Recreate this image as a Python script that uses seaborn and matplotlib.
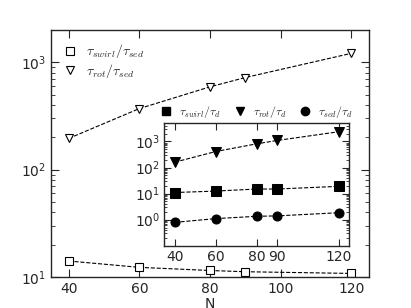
import numpy as np
import pandas as pd
import seaborn as sns
import matplotlib
matplotlib.use("Agg")
import matplotlib.pyplot as plt
from matplotlib.lines import Line2D
from matplotlib.ticker import LogLocator, NullFormatter

# data
N = [40, 60, 80, 90, 120]
swirl_sed = [14.1, 12.3, 11.5, 11.2, 10.8]
rot_sed = [195, 370, 590, 720, 1210]
swirl_d = [11.0, 12.5, 15.0, 15.0, 19.0]
rot_d = [160, 410, 810, 1090, 2350]
sed_d = [0.79, 1.1, 1.35, 1.4, 1.85]

main_df = pd.DataFrame({"N": N, "swirl": swirl_sed, "rot": rot_sed})
ins_df = pd.DataFrame({"N": N, "swirl": swirl_d, "rot": rot_d, "sed": sed_d})

sns.set_style("ticks")
plt.rcParams["font.family"] = ["DejaVu Sans"]
plt.rcParams["mathtext.fontset"] = "cm"
plt.rcParams["axes.linewidth"] = 1.0


def style_ticks(a):
    a.yaxis.set_minor_locator(LogLocator(base=10, subs=np.arange(2, 10), numticks=20))
    a.yaxis.set_minor_formatter(NullFormatter())
    a.tick_params(which="major", length=6, width=0.8, direction="in",
                  top=True, right=True, labelsize=10)
    a.tick_params(axis="y", which="minor", length=3, width=0.6, direction="in",
                  left=True, right=True)
    a.tick_params(axis="x", which="minor", bottom=False, top=False)
    for s in a.spines.values():
        s.set_visible(True)


fig = plt.figure(figsize=(4.11, 3.08), dpi=100)
ax = fig.add_axes([0.124, 0.1006, 0.774, 0.8024])

sns.lineplot(data=main_df, x="N", y="swirl", ax=ax, color="black", linestyle="--",
             linewidth=0.8, marker="s", markersize=6, markerfacecolor="white",
             markeredgecolor="black", markeredgewidth=0.8)
sns.lineplot(data=main_df, x="N", y="rot", ax=ax, color="black", linestyle="--",
             linewidth=0.8, marker="v", markersize=6, markerfacecolor="white",
             markeredgecolor="black", markeredgewidth=0.8)
ax.set_yscale("log")
ax.set_xlim(35, 125)
ax.set_ylim(10, 2000)
ax.set_xticks([40, 60, 80, 100, 120])
style_ticks(ax)
ax.set_xlabel("N", fontsize=10, labelpad=1)
ax.set_ylabel("")

h_main = [Line2D([], [], linestyle="none", marker="s", color="black", markerfacecolor="white",
                 markersize=5.5, markeredgewidth=0.8),
          Line2D([], [], linestyle="none", marker="v", color="black", markerfacecolor="white",
                 markersize=5.5, markeredgewidth=0.8)]
ax.legend(h_main, [r"$\tau_{swirl}/\tau_{sed}$", r"$\tau_{rot}/\tau_{sed}$"],
          loc="upper left", frameon=False, fontsize=10, handlelength=1.0,
          handletextpad=0.6, borderaxespad=0.5, labelspacing=0.1)

# inset
ins = fig.add_axes([0.40, 0.202, 0.449, 0.398])
for col, mk in [("rot", "v"), ("swirl", "s"), ("sed", "o")]:
    sns.lineplot(data=ins_df, x="N", y=col, ax=ins, color="black", linestyle="--",
                 linewidth=0.8, marker=mk, markersize=6.5, markerfacecolor="black",
                 markeredgecolor="black")
ins.set_yscale("log")
ins.set_xlim(35, 125)
ins.set_ylim(0.1, 5000)
ins.set_xticks([40, 60, 80, 90, 120])
ins.set_yticks([1, 10, 100, 1000])
style_ticks(ins)
ins.tick_params(which="major", length=5, pad=3)
ins.tick_params(axis="y", which="minor", length=2.5)
ins.set_xlabel("")
ins.set_ylabel("")

h_ins = [Line2D([], [], linestyle="none", marker=m, color="black", markersize=6)
         for m in ["s", "v", "o"]]
ins.legend(h_ins, [r"$\tau_{swirl}/\tau_{d}$", r"$\tau_{rot}/\tau_{d}$", r"$\tau_{sed}/\tau_{d}$"],
           loc="lower center", bbox_to_anchor=(0.5, 0.99), ncol=3, frameon=False,
           fontsize=8.5, handlelength=1.0, handletextpad=0.6, columnspacing=1.1,
           borderaxespad=0.0)

fig.savefig("out.png", dpi=100)
